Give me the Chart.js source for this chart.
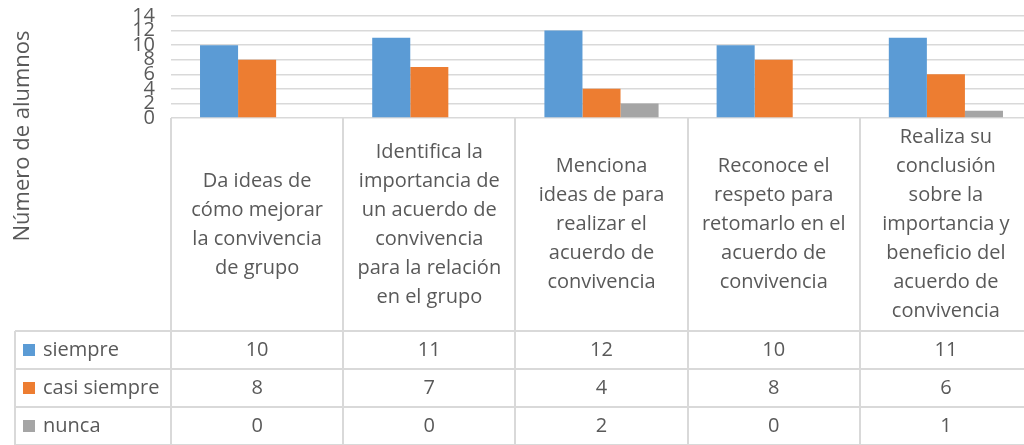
<!DOCTYPE html>
<html lang="es">
<head>
<meta charset="utf-8">
<script src="https://cdn.jsdelivr.net/npm/chart.js@4.4.1/dist/chart.umd.min.js"></script>
<style>
  html, body { margin: 0; padding: 0; background: #fff; overflow: hidden; }
  #wrap { width: 1032px; height: 445px; }
</style>
</head>
<body>
<div id="wrap"><canvas id="grafica"></canvas></div>
<script>
// Indicadores (una línea por renglón del rótulo)
const categorias = [
  ["Da ideas de", "cómo mejorar", "la convivencia", "de grupo"],
  ["Identifica la", "importancia de", "un acuerdo de", "convivencia", "para la relación", "en el grupo"],
  ["Menciona", "ideas de para", "realizar el", "acuerdo de", "convivencia"],
  ["Reconoce el", "respeto para", "retomarlo en el", "acuerdo de", "convivencia"],
  ["Realiza su", "conclusión", "sobre la", "importancia y", "beneficio del", "acuerdo de", "convivencia"]
];
const siempre = [10, 11, 12, 10, 11];
const casiSiempre = [8, 7, 4, 8, 6];
const nunca = [0, 0, 2, 0, 1];
const nombresSeries = ["siempre", "casi siempre", "nunca"];
const ticksY = [0, 2, 4, 6, 8, 10, 12, 14];
const tituloY = "Número de alumnos";

const colores = ["#5B9BD5", "#ED7D31", "#A5A5A5"];
const TEXTO = "#595959";
const LINEA = "#D9D9D9";
const FUENTE = "'Open Sans', 'Noto Sans', sans-serif";

// Tabla de datos bajo el eje X, rótulos de categoría y título del eje Y
const tablaDatos = {
  id: "tablaDatos",
  afterDraw(chart) {
    const ctx = chart.ctx;
    const x = chart.scales.x;
    const area = chart.chartArea;
    const ancho = x.getPixelForValue(1) - x.getPixelForValue(0);
    const filas = [331, 369, 407, 445];
    const izq = 15;
    const valores = [siempre, casiSiempre, nunca];

    ctx.save();
    ctx.strokeStyle = LINEA;
    ctx.lineWidth = 2;
    ctx.beginPath();
    // separadores de categoría
    for (let i = 0; i <= categorias.length; i++) {
      const px = Math.round(x.getPixelForValue(i) - ancho / 2);
      ctx.moveTo(px, area.bottom);
      ctx.lineTo(px, filas[filas.length - 1]);
    }
    // renglones de la tabla
    filas.forEach(fy => {
      ctx.moveTo(izq, fy);
      ctx.lineTo(area.right, fy);
    });
    ctx.moveTo(izq, filas[0]);
    ctx.lineTo(izq, filas[filas.length - 1]);
    ctx.stroke();

    ctx.fillStyle = TEXTO;
    ctx.font = "20px " + FUENTE;
    ctx.textAlign = "center";
    ctx.textBaseline = "middle";

    // rótulos de categoría centrados en su celda
    const centroCat = (area.bottom + filas[0]) / 2;
    categorias.forEach((lineas, i) => {
      const cx = x.getPixelForValue(i);
      const y0 = centroCat - (lineas.length - 1) * 29 / 2;
      lineas.forEach((t, k) => ctx.fillText(t, cx, y0 + k * 29));
    });

    // filas con leyenda y valores
    nombresSeries.forEach((nombre, r) => {
      const cy = (filas[r] + filas[r + 1]) / 2;
      ctx.fillStyle = colores[r];
      ctx.fillRect(23, cy - 6, 12, 12);
      ctx.fillStyle = TEXTO;
      ctx.textAlign = "left";
      ctx.fillText(nombre, 43, cy);
      ctx.textAlign = "center";
      valores[r].forEach((v, i) => ctx.fillText(String(v), x.getPixelForValue(i), cy));
    });

    // título del eje Y
    ctx.font = "22px " + FUENTE;
    ctx.translate(23, 136);
    ctx.rotate(-Math.PI / 2);
    ctx.fillText(tituloY, 0, 0);
    ctx.restore();
  }
};

new Chart(document.getElementById("grafica"), {
  type: "bar",
  data: {
    labels: categorias,
    datasets: nombresSeries.map((nombre, r) => ({
      label: nombre,
      data: [siempre, casiSiempre, nunca][r],
      backgroundColor: colores[r],
      categoryPercentage: 0.663,
      barPercentage: 1
    }))
  },
  options: {
    responsive: true,
    maintainAspectRatio: false,
    animation: false,
    layout: { padding: { top: 16, bottom: 327, left: 0, right: 0 } },
    plugins: {
      legend: { display: false },
      tooltip: { enabled: false }
    },
    scales: {
      x: { display: false },
      y: {
        min: ticksY[0],
        max: ticksY[ticksY.length - 1],
        afterBuildTicks(s) { s.ticks = ticksY.map(v => ({ value: v })); },
        afterFit(s) {
          s.width = 171;
          s.paddingTop = 0;
          s.paddingBottom = 0;
        },
        border: { display: false },
        grid: { color: LINEA, lineWidth: 1.5, drawTicks: false },
        ticks: {
          autoSkip: false,
          padding: 16,
          color: TEXTO,
          font: { family: FUENTE, size: 20 }
        }
      }
    }
  },
  plugins: [tablaDatos]
});
</script>
</body>
</html>
